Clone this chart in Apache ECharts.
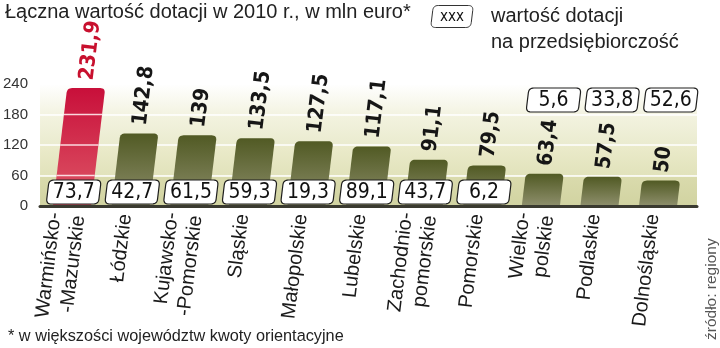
<!DOCTYPE html>
<html><head><meta charset="utf-8">
<script src="https://cdn.jsdelivr.net/npm/echarts@6/dist/echarts.min.js"></script>
<style>html,body{margin:0;padding:0;background:#fff}#c{width:720px;height:348px}</style>
</head><body><div id="c"></div>
<script>
// ---- data ----
var categories = ['Warmińsko-\n-Mazurskie', 'Łódzkie', 'Kujawsko-\n-Pomorskie', 'Sląskie', 'Małopolskie', 'Lubelskie', 'Zachodnio-\npomorskie', 'Pomorskie', 'Wielko-\npolskie', 'Podlaskie', 'Dolnośląskie'];
var totals = [231.9, 142.8, 139, 133.5, 127.5, 117.1, 91.1, 79.5, 63.4, 57.5, 50];
var business = [73.7, 42.7, 61.5, 59.3, 19.3, 89.1, 43.7, 6.2, 5.6, 33.8, 52.6];
var yTicks = [0, 60, 120, 180, 240];
var highlightIndex = 0;

var titleText = 'Łączna wartość dotacji w 2010 r., w mln euro*';
var legendText = 'wartość dotacji\nna przedsiębiorczość';
var footText = '* w większości województw kwoty orientacyjne';
var sourceText = 'źródło: regiony';

// ---- style ----
var SKEW = 0.12;
var NARROW = '"Liberation Sans Narrow","DejaVu Sans Condensed",sans-serif';
var BOLDC = '"DejaVu Sans Condensed","Liberation Sans Narrow",sans-serif';
var SANS = '"Liberation Sans",Arial,sans-serif';
var ROT = Math.PI / 2 - Math.atan(SKEW);

function fmt(v) { return String(v).replace('.', ','); }

// rounded polygon as a list of points (quadratic corners sampled)
function roundedPoints(pts, radii) {
  var n = pts.length, out = [];
  for (var j = 0; j < n; j++) {
    var P = pts[j], A = pts[(j - 1 + n) % n], B = pts[(j + 1) % n], r = radii[j];
    if (!r) { out.push([P[0], P[1]]); continue; }
    var la = Math.hypot(A[0] - P[0], A[1] - P[1]), lb = Math.hypot(B[0] - P[0], B[1] - P[1]);
    var p1 = [P[0] + (A[0] - P[0]) * r / la, P[1] + (A[1] - P[1]) * r / la];
    var p2 = [P[0] + (B[0] - P[0]) * r / lb, P[1] + (B[1] - P[1]) * r / lb];
    for (var t = 0; t <= 1.0001; t += 0.125) {
      var u = 1 - t;
      out.push([u * u * p1[0] + 2 * u * t * P[0] + t * t * p2[0],
                u * u * p1[1] + 2 * u * t * P[1] + t * t * p2[1]]);
    }
  }
  return out;
}
function skewBoxPts(cx, cy, w, h, r) {
  var s = SKEW * h / 2;
  return roundedPoints([
    [cx - w / 2 - s, cy + h / 2], [cx - w / 2 + s, cy - h / 2],
    [cx + w / 2 + s, cy - h / 2], [cx + w / 2 - s, cy + h / 2]
  ], [r, r, r, r]);
}
function barPts(cx, y0, yt, w) {
  var s = SKEW * (y0 - yt);
  return roundedPoints([
    [cx - w / 2, y0], [cx - w / 2 + s, yt], [cx + w / 2 + s, yt], [cx + w / 2, y0]
  ], [0, 5, 5, 0]);
}
var redGrad = new echarts.graphic.LinearGradient(0, 0, 0, 1, [
  { offset: 0, color: '#c80f3a' }, { offset: 1, color: '#de5867' }]);
var oliveGrad = new echarts.graphic.LinearGradient(0, 0, 0, 1, [
  { offset: 0, color: '#515a24' }, { offset: 1, color: '#8e8f6c' }]);

function barEl(api) {
  var i = api.value(0), v = api.value(1);
  var base = api.coord([i, 0]), top = api.coord([i, v]);
  var w = api.size([1, 0])[0] * 0.65;
  return {
    type: 'polygon',
    shape: { points: barPts(base[0], base[1], top[1], w) },
    style: { fill: i === highlightIndex ? redGrad : oliveGrad }
  };
}

// highlighted bar: gridlines show through it
function renderRed(params, api) {
  var i = api.value(0), v = api.value(1);
  if (i !== highlightIndex) return;
  var base = api.coord([i, 0]);
  var w = api.size([1, 0])[0] * 0.65;
  var children = [barEl(api)];
  yTicks.forEach(function (t) {
    if (t <= 0 || t >= v) return;
    var y = api.coord([i, t])[1];
    var s = SKEW * (base[1] - y);
    children.push({
      type: 'line',
      shape: { x1: base[0] - w / 2 + s, y1: y, x2: base[0] + w / 2 + s, y2: y },
      style: { stroke: 'rgba(255,235,238,0.9)', lineWidth: 1.5 }
    });
  });
  return { type: 'group', children: children };
}

function renderMain(params, api) {
  var i = api.value(0), v = api.value(1), b = api.value(2);
  var base = api.coord([i, 0]), top = api.coord([i, v]);
  var cx = base[0], y0 = base[1], yt = top[1];
  var unit = api.size([1, 0])[0];
  var children = [];
  if (i !== highlightIndex) children.push(barEl(api));
  // value label
  var gap = 8;
  var lx = cx + SKEW * (y0 - yt + gap), ly = yt - gap;
  children.push({
    type: 'text', x: lx, y: ly, rotation: ROT,
    style: {
      text: fmt(v), fill: i === highlightIndex ? '#c8102e' : '#161616',
      font: 'bold 21px ' + BOLDC, align: 'left', verticalAlign: 'middle'
    }
  });
  // business value box
  var boxVal = v > 70 ? 27.5 : 208.5;
  var by = api.coord([i, boxVal])[1];
  var bx = cx + SKEW * (y0 - by);
  children.push({
    type: 'polygon',
    shape: { points: skewBoxPts(bx, by, unit * 0.89, 24, 5) },
    style: { fill: '#fff', stroke: '#1e1e1e', lineWidth: 1.2 }
  });
  children.push({
    type: 'text', x: bx, y: by + 1,
    style: { text: fmt(b), fill: '#111', font: '21px ' + NARROW, align: 'center', verticalAlign: 'middle' }
  });
  // category label
  children.push({
    type: 'text', x: cx - 5, y: y0 + 8, rotation: ROT,
    style: {
      text: categories[i], fill: '#1a1a1a', font: '20px ' + SANS,
      align: 'right', verticalAlign: 'middle', lineHeight: 24
    }
  });
  return { type: 'group', children: children };
}

function band(top, bottom) {
  return new echarts.graphic.LinearGradient(0, 0, 0, 1, [
    { offset: 0, color: top }, { offset: 1, color: bottom }]);
}

var seriesData = totals.map(function (v, i) { return [i, v, business[i]]; });

var chart = echarts.init(document.getElementById('c'));
chart.setOption({
  animation: false,
  backgroundColor: '#fff',
  grid: { left: 40, right: 23, top: 84, bottom: 142 },
  xAxis: {
    type: 'value', min: -0.546, max: 10.665, z: 4,
    axisLine: { show: true, onZero: false, lineStyle: { color: '#3a3a30', width: 3 } },
    axisTick: { show: false }, axisLabel: { show: false }, splitLine: { show: false }
  },
  yAxis: {
    type: 'value', min: yTicks[0], max: yTicks[yTicks.length - 1], interval: 60, z: 0,
    axisLine: { show: false }, axisTick: { show: false },
    axisLabel: { color: '#333', fontSize: 15, fontFamily: SANS, margin: 12 },
    splitLine: { show: true, lineStyle: { color: '#ffffff', width: 1.5 } },
    splitArea: { show: true, areaStyle: { color: [
      band('#dadbad', '#d1d3a1'), band('#ebebcb', '#e1e2bb'),
      band('#f3f3e0', '#eaebcf'), band('#ffffff', '#f3f3e1')] } }
  },
  series: [{
    type: 'custom', z: 1, renderItem: renderRed, data: seriesData,
    encode: { x: 0, y: 1 }, clip: false
  }, {
    type: 'custom', z: 3, renderItem: renderMain, data: seriesData,
    encode: { x: 0, y: 1 }, clip: false
  }],
  graphic: [
    { type: 'text', left: 5, top: 2, style: { text: titleText, font: '20px ' + SANS, fill: '#222' } },
    { type: 'polygon', shape: { points: skewBoxPts(452, 16.5, 40, 22, 5) }, style: { fill: '#fff', stroke: '#333', lineWidth: 1 } },
    { type: 'text', x: 452, y: 17, style: { text: 'xxx', font: '15px ' + NARROW, fill: '#111', align: 'center', verticalAlign: 'middle' } },
    { type: 'text', left: 491, top: 3, style: { text: legendText, font: '20px ' + SANS, fill: '#222', lineHeight: 26 } },
    { type: 'text', left: 8, top: 329, style: { text: footText, font: '16.3px ' + SANS, fill: '#222' } },
    { type: 'text', x: 712, y: 340, rotation: Math.PI / 2, style: { text: sourceText, font: '15.5px ' + SANS, fill: '#555', align: 'left', verticalAlign: 'middle' } }
  ]
});
</script></body></html>
